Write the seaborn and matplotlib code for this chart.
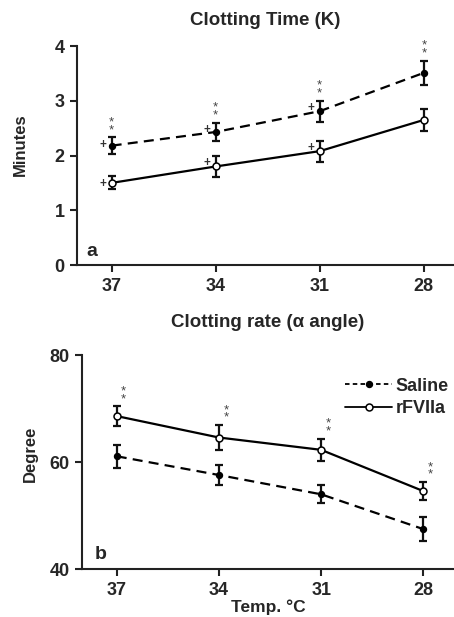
import matplotlib
matplotlib.use("Agg")
import matplotlib.pyplot as plt
import seaborn as sns

# datos
temps = ["37", "34", "31", "28"]

time_saline = [2.18, 2.43, 2.81, 3.51]
time_saline_err = [0.15, 0.17, 0.19, 0.22]
time_rfviia = [1.50, 1.80, 2.08, 2.65]
time_rfviia_err = [0.12, 0.19, 0.19, 0.20]

angle_saline = [61.1, 57.6, 54.0, 47.5]
angle_saline_err = [2.1, 1.8, 1.65, 2.2]
angle_rfviia = [68.6, 64.6, 62.3, 54.6]
angle_rfviia_err = [1.8, 2.3, 2.1, 1.7]

time_stars = [True, True, True, True]      # ** sobre Saline
time_plus = [True, True, True, False]       # + a la izquierda
angle_stars = [True, True, True, True]      # ** sobre rFVIIa

sns.set_style("ticks")
plt.rcParams["font.family"] = ["Liberation Sans", "DejaVu Sans"]
plt.rcParams["font.weight"] = "bold"


def draw_series(ax, y, err, dashed, filled, label):
    sns.lineplot(x=temps, y=y, ax=ax, color="black", linewidth=1.6,
                 linestyle=(0, (4.5, 2.8)) if dashed else "-",
                 marker="o", markersize=4.2 if filled else 5,
                 markerfacecolor="black" if filled else "white",
                 markeredgecolor="black", markeredgewidth=1.1,
                 label=label, zorder=3, sort=False)
    ax.errorbar(temps, y, yerr=err, fmt="none", ecolor="#111111",
                elinewidth=1.6, capsize=3.2, capthick=1.6, zorder=2)


def style_axes(ax):
    sns.despine(ax=ax)
    for s in ("left", "bottom"):
        ax.spines[s].set_linewidth(1.5)
        ax.spines[s].set_color("#222222")
    ax.tick_params(axis="both", length=5, width=1.5, color="#222222",
                   labelsize=13, pad=4)
    for lab in ax.get_xticklabels() + ax.get_yticklabels():
        lab.set_fontweight("bold")
    ax.set_xlabel("")


fig = plt.figure(figsize=(4.54, 6.17), dpi=100)

# panel a
ax1 = fig.add_axes([0.1696, 0.5705, 0.8304, 0.3549])
draw_series(ax1, time_saline, time_saline_err, True, True, "Saline")
draw_series(ax1, time_rfviia, time_rfviia_err, False, False, "rFVIIa")
ax1.set_xlim(-0.333, 3.29)
ax1.set_ylim(0, 4)
ax1.set_yticks([0, 1, 2, 3, 4])
ax1.legend_.remove()
style_axes(ax1)
ax1.set_ylabel("Minutes", fontsize=12, fontweight="bold")
ax1.yaxis.set_label_coords(-0.13, 0.548)

for i in range(len(temps)):
    top = time_saline[i] + time_saline_err[i]
    if time_stars[i]:
        ax1.annotate("*\n*", xy=(i, top), xytext=(0, 1),
                     textcoords="offset points", ha="center", va="bottom",
                     fontsize=9.5, linespacing=0.5, color="#444444",
                     fontweight="normal")
    if time_plus[i]:
        for y, e in ((time_saline[i], time_saline_err[i]),
                     (time_rfviia[i], time_rfviia_err[i])):
            ax1.annotate("+", xy=(i, y + e), xytext=(-6.5, -1),
                         textcoords="offset points", ha="center", va="top",
                         fontsize=8.5, color="#333333", fontweight="bold")

ax1.text(0.024, 0.06, "a", transform=ax1.transAxes, fontsize=14,
         fontweight="bold", ha="left", va="center")
fig.text(0.585, 0.967, "Clotting Time (K)", ha="center", va="center",
         fontsize=13.5, fontweight="bold")

# panel b
ax2 = fig.add_axes([0.1806, 0.0773, 0.8194, 0.3473])
draw_series(ax2, angle_saline, angle_saline_err, True, True, "Saline")
draw_series(ax2, angle_rfviia, angle_rfviia_err, False, False, "rFVIIa")
ax2.set_xlim(-0.34, 3.3)
ax2.set_ylim(40, 80)
ax2.set_yticks([40, 60, 80])
style_axes(ax2)
ax2.set_ylabel("Degree", fontsize=12, fontweight="bold")
ax2.yaxis.set_label_coords(-0.118, 0.538)

for i in range(len(temps)):
    top = angle_rfviia[i] + angle_rfviia_err[i]
    if angle_stars[i]:
        ax2.annotate("*\n*", xy=(i, top), xytext=(5, 1),
                     textcoords="offset points", ha="center", va="bottom",
                     fontsize=9.5, linespacing=0.5, color="#444444",
                     fontweight="normal")

leg = ax2.legend(loc="upper right", bbox_to_anchor=(1.03, 0.97),
                 frameon=False, handlelength=2.6, handletextpad=0.2,
                 labelspacing=0.3, prop={"size": 13, "weight": "bold"})
for h in leg.legend_handles:
    h.set_linewidth(1.3)
leg.legend_handles[0].set_linestyle((0, (2.5, 1.8)))

ax2.text(0.033, 0.067, "b", transform=ax2.transAxes, fontsize=14,
         fontweight="bold", ha="left", va="center")
fig.text(0.59, 0.478, "Clotting rate (\u03b1 angle)", ha="center",
         va="center", fontsize=13.5, fontweight="bold")
fig.text(0.59, 0.003, "Temp. \u00b0C", ha="center", va="bottom",
         fontsize=12.5, fontweight="bold")

fig.savefig("out.png", dpi=100)
